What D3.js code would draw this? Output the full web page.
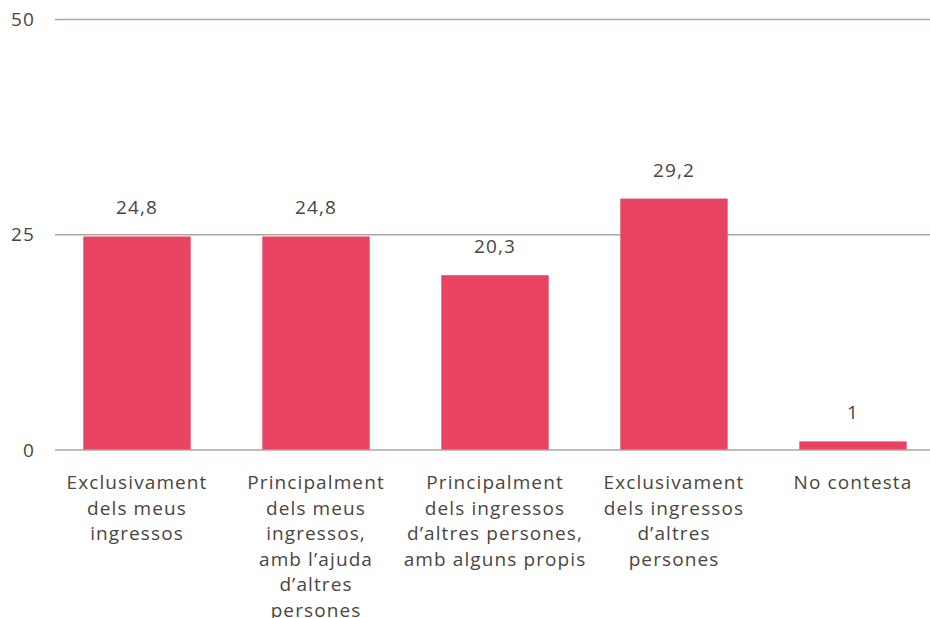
<!DOCTYPE html>
<html>
<head>
<meta charset="utf-8">
<script src="https://cdn.jsdelivr.net/npm/d3@7"></script>
<style>
  body { margin: 0; background: #fff; }
  text { font-family: "Open Sans", "Noto Sans", sans-serif; fill: #4a4542; letter-spacing: 1.1px; }
</style>
</head>
<body>
<div id="chart"></div>
<script>
let categories = [
    ["Exclusivament", "dels meus", "ingressos"],
    ["Principalment", "dels meus", "ingressos,", "amb l\u2019ajuda", "d\u2019altres", "persones"],
    ["Principalment", "dels ingressos", "d\u2019altres persones,", "amb alguns propis"],
    ["Exclusivament", "dels ingressos", "d\u2019altres", "persones"],
    ["No contesta"]
];
let values = [24.8, 24.8, 20.3, 29.2, 1];
let yTicks = [0, 25, 50];

let outerWidth = 930, outerHeight = 618;
let margin = { "top": 19.5, "bottom": 168, "left": 55, "right": 0 };
let height = outerHeight - margin.top - margin.bottom;

let svg = d3.select('#chart')
    .append('svg')
    .attr('width', outerWidth)
    .attr('height', outerHeight);

let xScale = d3.scaleBand()
    .domain(d3.range(categories.length))
    .range([47.5, 942.5])
    .paddingInner(0.4)
    .paddingOuter(0.2);

let yScale = d3.scaleLinear()
    .domain([0, 50])
    .range([margin.top + height, margin.top]);

// gridlines
svg.append('g')
    .selectAll('line')
    .data(yTicks.filter(d => d !== 0))
    .enter()
    .append('line')
    .attr('x1', margin.left)
    .attr('x2', outerWidth)
    .attr('y1', d => yScale(d))
    .attr('y2', d => yScale(d))
    .attr('stroke', '#aaa6a2')
    .attr('stroke-width', 1.5);

// y labels
svg.append('g')
    .selectAll('text')
    .data(yTicks)
    .enter()
    .append('text')
    .attr('x', 35)
    .attr('y', d => yScale(d))
    .attr('dy', '0.35em')
    .attr('text-anchor', 'end')
    .style('font-size', '19px')
    .text(d => d);

// bars
svg.append('g')
    .selectAll('rect')
    .data(values)
    .enter()
    .append('rect')
    .attr('x', (d, i) => xScale(i))
    .attr('width', xScale.bandwidth())
    .attr('y', d => yScale(d))
    .attr('height', d => yScale(0) - yScale(d))
    .attr('fill', '#e84462');

// baseline
svg.append('line')
    .attr('x1', margin.left)
    .attr('x2', outerWidth)
    .attr('y1', yScale(0))
    .attr('y2', yScale(0))
    .attr('stroke', '#aaa6a2')
    .attr('stroke-width', 1.5);

// value labels
svg.append('g')
    .selectAll('text')
    .data(values)
    .enter()
    .append('text')
    .attr('x', (d, i) => xScale(i) + xScale.bandwidth() / 2)
    .attr('y', d => yScale(d) - 22)
    .attr('text-anchor', 'middle')
    .style('font-size', '19px')
    .text(d => String(d).replace('.', ','));

// category labels
let catLabels = svg.append('g')
    .selectAll('text')
    .data(categories)
    .enter()
    .append('text')
    .attr('text-anchor', 'middle')
    .style('font-size', '19px')
    .attr('transform', (d, i) => 'translate(' + (xScale(i) + xScale.bandwidth() / 2) + ',' + 489 + ')');
catLabels.selectAll('tspan')
    .data(d => d)
    .enter()
    .append('tspan')
    .attr('x', 0)
    .attr('y', (d, i) => i * 25.5)
    .text(d => d);
</script>
</body>
</html>
